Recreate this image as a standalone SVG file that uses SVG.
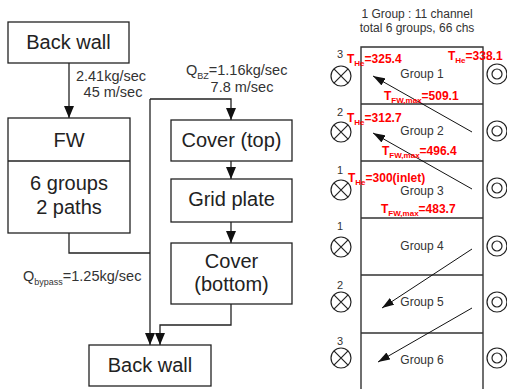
<svg xmlns="http://www.w3.org/2000/svg" width="507" height="389" viewBox="0 0 507 389">
  <style>
    .box { fill: #fff; stroke: #222; stroke-width: 1.3; }
    .lbl { font-family: "Liberation Sans", Arial, sans-serif; font-size: 20px; fill: #222; text-anchor: middle; }
    .sm { font-family: "Liberation Sans", Arial, sans-serif; font-size: 14.5px; fill: #333; }
    .grp { font-family: "Liberation Sans", Arial, sans-serif; font-size: 12px; fill: #333; text-anchor: middle; }
    .num { font-family: "Liberation Sans", Arial, sans-serif; font-size: 11px; fill: #333; text-anchor: middle; }
    .red { font-family: "Liberation Sans", Arial, sans-serif; font-size: 12px; font-weight: bold; fill: #f00; }
    .wire { fill: none; stroke: #222; stroke-width: 1.3; }
    .flow { fill: none; stroke: #111; stroke-width: 1; }
    .frame { fill: none; stroke: #333; stroke-width: 1.4; }
    .sym { fill: #fff; stroke: #222; stroke-width: 1.2; }
  </style>
  <defs>
    <marker id="ah" viewBox="0 0 12 10" refX="12" refY="5" markerUnits="userSpaceOnUse" markerWidth="12" markerHeight="10" orient="auto">
      <path d="M0,0 L12,5 L0,10 z" fill="#111"/>
    </marker>
    <marker id="ahs" viewBox="0 0 12 8" refX="12" refY="4" markerUnits="userSpaceOnUse" markerWidth="12" markerHeight="8" orient="auto">
      <path d="M0,0 L12,4 L0,8 z" fill="#111"/>
    </marker>
    <g id="xsym">
      <circle r="10" class="sym"/>
      <path d="M-7.07,-7.07 L7.07,7.07 M-7.07,7.07 L7.07,-7.07" stroke="#222" stroke-width="1.2"/>
    </g>
    <g id="osym">
      <circle r="10" class="sym"/>
      <circle r="5" class="sym"/>
    </g>
  </defs>

  <!-- flow chart connectors -->
  <g id="connectors">
    <path class="wire" d="M69,63 V118" marker-end="url(#ah)"/>
    <path class="wire" d="M69,233 V253 H150"/>
    <path class="wire" d="M150,99 V345" marker-end="url(#ah)"/>
    <path class="wire" d="M150,99 H231 V120" marker-end="url(#ah)"/>
    <path class="wire" d="M231,161 V179" marker-end="url(#ah)"/>
    <path class="wire" d="M231,222 V243" marker-end="url(#ah)"/>
    <path class="wire" d="M231,304 V325 H160 V345" marker-end="url(#ah)"/>
  </g>

  <!-- flow chart nodes -->
  <g id="backwall-top">
    <rect class="box" x="8" y="22" width="121" height="41"/>
    <text class="lbl" x="68.5" y="49">Back wall</text>
  </g>
  <g id="fw">
    <rect class="box" x="8" y="118" width="122" height="115"/>
    <line x1="8" y1="161" x2="130" y2="161" stroke="#222" stroke-width="1.3"/>
    <text class="lbl" x="69" y="147">FW</text>
    <text class="lbl" x="69" y="190">6 groups</text>
    <text class="lbl" x="69" y="214">2 paths</text>
  </g>
  <g id="cover-top">
    <rect class="box" x="171" y="120" width="121" height="41"/>
    <text class="lbl" x="231.5" y="147">Cover (top)</text>
  </g>
  <g id="grid-plate">
    <rect class="box" x="171" y="179" width="121" height="43"/>
    <text class="lbl" x="231.5" y="206">Grid plate</text>
  </g>
  <g id="cover-bottom">
    <rect class="box" x="171" y="243" width="121" height="61"/>
    <text class="lbl" x="231.5" y="268">Cover</text>
    <text class="lbl" x="231.5" y="291">(bottom)</text>
  </g>
  <g id="backwall-bottom">
    <rect class="box" x="89" y="345" width="122" height="41"/>
    <text class="lbl" x="150" y="372">Back wall</text>
  </g>

  <!-- flow rates -->
  <g id="flow-labels">
    <text class="sm" x="111" y="81" text-anchor="middle">2.41kg/sec</text>
    <text class="sm" x="113" y="97" text-anchor="middle">45 m/sec</text>
    <text class="sm" x="186" y="75">Q<tspan font-size="9" dy="4">BZ</tspan><tspan dy="-4">=1.16kg/sec</tspan></text>
    <text class="sm" x="242" y="92" text-anchor="middle">7.8 m/sec</text>
    <text class="sm" x="23" y="281">Q<tspan font-size="9" dy="4">bypass</tspan><tspan dy="-4">=1.25kg/sec</tspan></text>
  </g>

  <!-- channel group layout -->
  <g id="channel-layout">
    <text class="grp" x="417" y="18">1 Group : 11 channel</text>
    <text class="grp" x="417" y="32">total 6 groups, 66 chs</text>

    <path class="frame" d="M361,389 V47 H483 V389"/>
    <path class="frame" d="M361,104 H483 M361,161 H483 M361,218 H483 M361,275 H483 M361,333 H483"/>

    <text class="grp" x="422" y="78">Group 1</text>
    <text class="grp" x="422" y="135">Group 2</text>
    <text class="grp" x="422" y="195">Group 3</text>
    <text class="grp" x="422" y="250">Group 4</text>
    <text class="grp" x="422" y="306">Group 5</text>
    <text class="grp" x="422" y="364">Group 6</text>

    <use href="#xsym" x="341" y="76"/>
    <use href="#xsym" x="341" y="132"/>
    <use href="#xsym" x="341" y="190"/>
    <use href="#xsym" x="341" y="247"/>
    <use href="#xsym" x="341" y="302"/>
    <use href="#xsym" x="341" y="358"/>

    <use href="#osym" x="497" y="74"/>
    <use href="#osym" x="497" y="131"/>
    <use href="#osym" x="497" y="188"/>
    <use href="#osym" x="497" y="246"/>
    <use href="#osym" x="497" y="302"/>
    <use href="#osym" x="497" y="358"/>

    <text class="num" x="340" y="58">3</text>
    <text class="num" x="340" y="116">2</text>
    <text class="num" x="340" y="174">1</text>
    <text class="num" x="340" y="230">1</text>
    <text class="num" x="340" y="289">2</text>
    <text class="num" x="340" y="345">3</text>

    <path class="flow" d="M472,132 L373,76" marker-end="url(#ahs)"/>
    <path class="flow" d="M472,189 L373,133" marker-end="url(#ahs)"/>
    <path class="flow" d="M472,249 L382,308" marker-end="url(#ahs)"/>
    <path class="flow" d="M472,308 L378,362" marker-end="url(#ahs)"/>

    <text class="red" x="347" y="63">T<tspan font-size="8" dy="3">He</tspan><tspan dy="-3">=325.4</tspan></text>
    <text class="red" x="448" y="60">T<tspan font-size="8" dy="3">He</tspan><tspan dy="-3">=338.1</tspan></text>
    <text class="red" x="384" y="100">T<tspan font-size="8" dy="3">FW,max</tspan><tspan dy="-3">=509.1</tspan></text>
    <text class="red" x="347" y="122">T<tspan font-size="8" dy="3">He</tspan><tspan dy="-3">=312.7</tspan></text>
    <text class="red" x="382" y="155">T<tspan font-size="8" dy="3">FW,max</tspan><tspan dy="-3">=496.4</tspan></text>
    <text class="red" x="348" y="182">T<tspan font-size="8" dy="3">He</tspan><tspan dy="-3">=300(inlet)</tspan></text>
    <text class="red" x="381" y="213">T<tspan font-size="8" dy="3">FW,max</tspan><tspan dy="-3">=483.7</tspan></text>
  </g>
</svg>
